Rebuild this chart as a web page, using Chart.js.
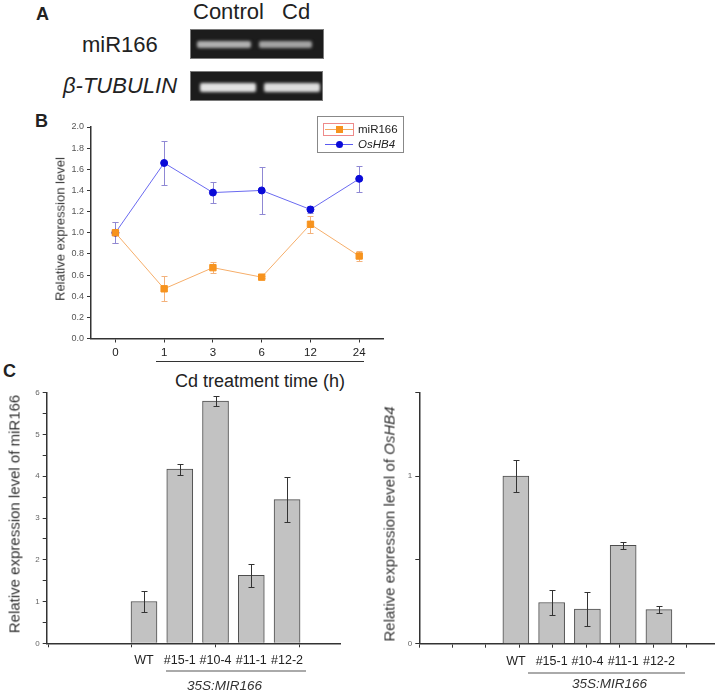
<!DOCTYPE html>
<html>
<head>
<meta charset="utf-8">
<script src="https://cdn.jsdelivr.net/npm/chart.js@4.4.0/dist/chart.umd.min.js"></script>
<style>
body { margin: 0; background: #fff; }
#page { position: relative; width: 717px; height: 693px; overflow: hidden; font-family: "Liberation Sans", Arial, sans-serif; color: #222; }
.t { position: absolute; white-space: nowrap; line-height: 1; }
canvas { position: absolute; }
.gel { position: absolute; background: #1c1c1c; border: 1px solid #7a7a7a; box-sizing: border-box; }
.band { position: absolute; border-radius: 2px; filter: blur(1.6px); }
.rot { position: absolute; white-space: nowrap; font-size: 15px; line-height: 1; color: #333; transform: translate(-50%, -50%) rotate(-90deg); }
</style>
</head>
<body>
<div id="page">
  <!-- panel A: gel picture -->
  <div class="t" style="left:36px;top:5px;font-size:18px;font-weight:bold;">A</div>
  <div class="t" style="left:193px;top:1px;font-size:22px;">Control</div>
  <div class="t" style="left:282px;top:1px;font-size:22px;">Cd</div>
  <div class="t" style="left:82px;top:34px;font-size:22px;">miR166</div>
  <div class="t" style="left:63px;top:75px;font-size:22px;font-style:italic;">β-TUBULIN</div>
  <div class="gel" style="left:190px;top:29px;width:134px;height:30px;">
    <div class="band" style="left:6px;top:11px;width:54px;height:7px;background:#b0b0b0;"></div>
    <div class="band" style="left:68px;top:11px;width:53px;height:7px;background:#a3a3a3;"></div>
  </div>
  <div class="gel" style="left:190px;top:71px;width:133px;height:30px;">
    <div class="band" style="left:9px;top:11px;width:56px;height:9px;background:#e2e2e2;"></div>
    <div class="band" style="left:73px;top:11px;width:56px;height:9px;background:#dedede;"></div>
  </div>

  <!-- panel B -->
  <div class="t" style="left:35px;top:112px;font-size:18px;font-weight:bold;">B</div>
  <canvas id="chartB" width="400" height="260" style="left:0;top:100px;"></canvas>
  <div class="rot" style="left:60px;top:229px;font-size:13px;">Relative expression level</div>
  <div style="position:absolute;left:317px;top:116px;width:87px;height:37px;border:1px solid #888;box-sizing:border-box;"></div>
  <div style="position:absolute;left:323px;top:123px;width:31px;height:13px;border:1px solid #ee8a8a;box-sizing:border-box;"></div>
  <div style="position:absolute;left:325px;top:129px;width:28px;height:1px;background:#f5a860;"></div>
  <div style="position:absolute;left:336px;top:126px;width:7px;height:7px;background:#f7931e;"></div>
  <div class="t" style="left:358px;top:123.5px;font-size:11.5px;">miR166</div>
  <div style="position:absolute;left:325px;top:144px;width:28px;height:1px;background:#5a5af0;"></div>
  <div style="position:absolute;left:336px;top:141px;width:7px;height:7px;border-radius:50%;background:#0a0ad8;"></div>
  <div class="t" style="left:358px;top:138.5px;font-size:11.5px;font-style:italic;">OsHB4</div>
  <div style="position:absolute;left:156px;top:361px;width:208px;height:1px;background:#333;"></div>
  <div class="t" style="left:175px;top:372px;font-size:18px;">Cd treatment time (h)</div>

  <!-- panel C -->
  <div class="t" style="left:3px;top:362px;font-size:18px;font-weight:bold;">C</div>
  <canvas id="chartCL" width="360" height="313" style="left:0;top:380px;"></canvas>
  <canvas id="chartCR" width="357" height="313" style="left:360px;top:380px;"></canvas>
  <div class="rot" style="left:14px;top:514px;">Relative expression level of miR166</div>
  <div class="rot" style="left:389px;top:524px;">Relative expression level of <i>OsHB4</i></div>
  <div style="position:absolute;left:166px;top:670px;width:140px;height:1.5px;background:#aaa;"></div>
  <div class="t" style="left:187px;top:679px;font-size:13.5px;font-style:italic;color:#333;">35S:MIR166</div>
  <div style="position:absolute;left:528px;top:672px;width:157px;height:1.5px;background:#aaa;"></div>
  <div class="t" style="left:572px;top:677px;font-size:13.5px;font-style:italic;color:#333;">35S:MIR166</div>
</div>

<script>
Chart.defaults.font.family = "'Liberation Sans', Arial, sans-serif";

// panel B: time course
const timeLabels = ['0', '1', '3', '6', '12', '24'];
const mirTime = [1.0, 0.47, 0.67, 0.58, 1.08, 0.78];
const mirTimeErr = [0.10, 0.12, 0.05, 0.01, 0.08, 0.05];
const hbTime = [1.0, 1.66, 1.38, 1.40, 1.22, 1.51];
const hbTimeErr = [0.10, 0.21, 0.10, 0.22, 0.03, 0.12];

// panel C: transgenic lines
const lineLabels = ['WT', '#15-1', '#10-4', '#11-1', '#12-2'];
const mirLines = [1.0, 4.17, 5.80, 1.63, 3.44];
const mirLinesErr = [0.25, 0.13, 0.12, 0.28, 0.53];
const hbLines = [1.0, 0.246, 0.206, 0.587, 0.203];
const hbLinesErr = [0.095, 0.075, 0.10, 0.022, 0.022];

// extra tick marks on the C x axes (origin style)
const tickMarksLeft = [-2.68, -0.34, 1.99, 4.34];
const tickMarksRight = [-2.7, -1.77, -0.84, 0.1, 1.03, 1.97, 2.9, 3.84, 4.77];

function drawErrors(chart) {
    const ctx = chart.ctx;
    const yScale = chart.scales.y;
    chart.data.datasets.forEach(function (ds, i) {
        if (!ds.errors) return;
        const meta = chart.getDatasetMeta(i);
        ctx.save();
        ctx.strokeStyle = ds.errorColor;
        ctx.lineWidth = 1;
        meta.data.forEach(function (el, j) {
            const v = meta.controller.getParsed(j).y;
            const top = Math.round(yScale.getPixelForValue(v + ds.errors[j])) + 0.5;
            const bot = Math.round(yScale.getPixelForValue(v - ds.errors[j])) + 0.5;
            const x = Math.round(el.x) + 0.5;
            const w = ds.capWidth;
            ctx.beginPath();
            ctx.moveTo(x, top); ctx.lineTo(x, bot);
            ctx.moveTo(x - w, top); ctx.lineTo(x + w, top);
            ctx.moveTo(x - w, bot); ctx.lineTo(x + w, bot);
            ctx.stroke();
        });
        ctx.restore();
    });
}

const errorBars = {
    id: 'errorBars',
    beforeDatasetsDraw(chart) { if (chart.config.type === 'line') drawErrors(chart); },
    afterDatasetsDraw(chart) { if (chart.config.type === 'bar') drawErrors(chart); }
};

new Chart(document.getElementById('chartB'), {
    type: 'line',
    data: {
        labels: timeLabels,
        datasets: [{
            label: 'miR166',
            data: mirTime,
            errors: mirTimeErr,
            errorColor: '#f3b27c',
            capWidth: 3,
            borderColor: '#f6ae6a',
            borderWidth: 1,
            backgroundColor: '#f7931e',
            pointBorderColor: '#f7931e',
            pointStyle: 'rect',
            pointRadius: 4.5,
            tension: 0
        }, {
            label: 'OsHB4',
            data: hbTime,
            errors: hbTimeErr,
            errorColor: '#8f88d4',
            capWidth: 3,
            borderColor: '#6a6af0',
            borderWidth: 1,
            backgroundColor: '#0a0ad8',
            pointBorderColor: '#0a0ad8',
            pointStyle: 'circle',
            pointRadius: 3.5,
            tension: 0
        }]
    },
    options: {
        responsive: false,
        animation: false,
        devicePixelRatio: 1,
        layout: { padding: { top: 27, right: 16.4, left: 0, bottom: 0 } },
        plugins: { legend: { display: false }, tooltip: { enabled: false } },
        scales: {
            x: {
                offset: true,
                grid: { drawOnChartArea: false, tickLength: 4, color: '#333', offset: false },
                border: { color: '#333', width: 1.5 },
                ticks: { font: { size: 11.5 }, color: '#222', padding: 3, maxRotation: 0 },
                afterFit(s) { s.height = 21.5; }
            },
            y: {
                min: 0,
                max: 2,
                ticks: { stepSize: 0.2, callback: v => v.toFixed(1), font: { size: 9 }, color: '#555', padding: 3 },
                grid: { drawOnChartArea: false, tickLength: 4, color: '#333' },
                border: { color: '#333', width: 1.5 },
                afterFit(s) { s.width = 91; }
            }
        }
    },
    plugins: [errorBars]
});

function barChart(id, values, errors, yMax, yLabel, xMin, xMax, marks, boxW, padRight, padTop, boxH) {
    const allTicks = marks.concat([0, 1, 2, 3, 4]);
    return new Chart(document.getElementById(id), {
        type: 'bar',
        data: {
            datasets: [{
                data: values.map((v, i) => ({ x: i, y: v })),
                errors: errors,
                errorColor: '#333',
                capWidth: 3,
                backgroundColor: '#c2c2c2',
                borderColor: '#4d4d4d',
                borderWidth: 1,
                barThickness: 26
            }]
        },
        options: {
            responsive: false,
            animation: false,
            devicePixelRatio: 1,
            layout: { padding: { top: padTop, right: padRight, left: 0, bottom: 0 } },
            plugins: { legend: { display: false }, tooltip: { enabled: false } },
            scales: {
                x: {
                    type: 'linear',
                    min: xMin,
                    max: xMax,
                    offset: false,
                    afterBuildTicks(s) { s.ticks = allTicks.map(v => ({ value: v })); },
                    grid: {
                        drawOnChartArea: false,
                        offset: false,
                        tickLength: 4,
                        color: c => Number.isInteger(c.tick.value) ? 'rgba(0,0,0,0)' : '#333'
                    },
                    border: { color: '#333', width: 1.5 },
                    ticks: {
                        autoSkip: false,
                        maxRotation: 0,
                        font: { size: 12.5 },
                        color: '#222',
                        padding: 6,
                        callback: v => Number.isInteger(v) ? lineLabels[v] : ''
                    },
                    afterFit(s) { s.height = boxH; }
                },
                y: {
                    min: 0,
                    max: yMax,
                    ticks: { stepSize: 0.5, callback: yLabel, font: { size: 8 }, color: '#666', padding: 3 },
                    grid: { drawOnChartArea: false, tickLength: 4, color: '#333' },
                    border: { color: '#333', width: 1.5 },
                    afterFit(s) { s.width = boxW; }
                }
            }
        },
        plugins: [errorBars]
    });
}

barChart('chartCL', mirLines, mirLinesErr, 6,
    v => Number.isInteger(v) ? v : '',
    -2.72, 5.48, tickMarksLeft, 46.7, 20, 12.7, 49.7);

barChart('chartCR', hbLines, hbLinesErr, 1.5,
    v => (v === 0 || v === 1) ? v : '',
    -2.7, 5.54, tickMarksRight, 59.3, 3, 12.3, 49.3);
</script>
</body>
</html>
